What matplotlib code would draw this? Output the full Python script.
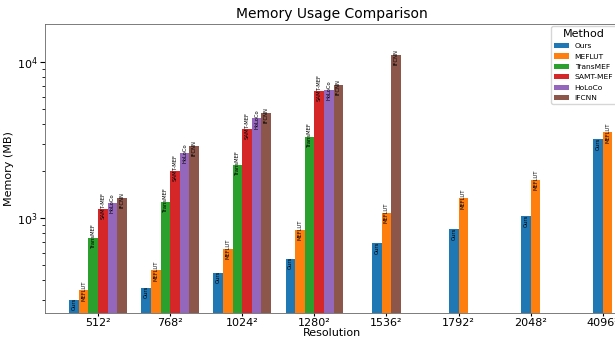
import numpy as np
import matplotlib
matplotlib.use("Agg")
import matplotlib.pyplot as plt

resolutions = ["512²", "768²", "1024²", "1280²", "1536²", "1792²", "2048²", "4096²"]
methods = ["Ours", "MEFLUT", "TransMEF", "SAMT-MEF", "HoLoCo", "IFCNN"]
colors = ["#1f77b4", "#ff7f0e", "#2ca02c", "#d62728", "#9467bd", "#8c564b"]

# memory in MB, None = not available (out of memory)
ours = [297, 358, 447, 549, 688, 846, 1025, 3190]
meflut = [343, 462, 637, 834, 1077, 1337, 1745, 3540]
transmef = [745, 1266, 2200, 3326, None, None, None, None]
samt_mef = [1149, 2014, 3720, 6487, None, None, None, None]
holoco = [1256, 2620, 4353, 6616, None, None, None, None]
ifcnn = [1351, 2894, 4689, 7096, 11040, None, None, None]
memory = [ours, meflut, transmef, samt_mef, holoco, ifcnn]

fig = plt.figure(figsize=(6.15, 3.39), dpi=100)
ax = fig.add_axes([45 / 615, 26 / 339, 573 / 615, 289 / 339])

width = 0.8 / len(methods)
used = set()
for g in range(len(resolutions)):
    present = [m for m in range(len(methods)) if memory[m][g] is not None]
    n = len(present)
    for k, m in enumerate(present):
        x = g + (k - (n - 1) / 2) * width
        val = memory[m][g]
        lab = methods[m] if m not in used else None
        used.add(m)
        ax.bar(x, val, width, color=colors[m], label=lab)
        ax.text(x, val * 0.86, methods[m], rotation=90, ha="center", va="bottom",
                fontsize=3.8, color="black")

ax.set_yscale("log")
ax.set_ylim(246, 17500)
ax.set_xlim(-0.735, 7.21)
ax.set_xticks(range(len(resolutions)))
ax.set_xticklabels(resolutions, fontsize=8)
ax.tick_params(axis="y", labelsize=8, pad=2)
ax.tick_params(axis="x", length=2.5, pad=1)
ax.set_xlabel("Resolution", fontsize=8, labelpad=0)
ax.set_ylabel("Memory (MB)", fontsize=8, labelpad=2)
ax.set_title("Memory Usage Comparison", fontsize=10, pad=4)
for s in ax.spines.values():
    s.set_linewidth(0.6)
    s.set_color("#666666")
ax.legend(title="Method", loc="upper right", fontsize=5.4, title_fontsize=8,
          borderaxespad=0.3, handlelength=2.0, labelspacing=0.55, borderpad=0.35)

fig.savefig("out.png", dpi=100)
